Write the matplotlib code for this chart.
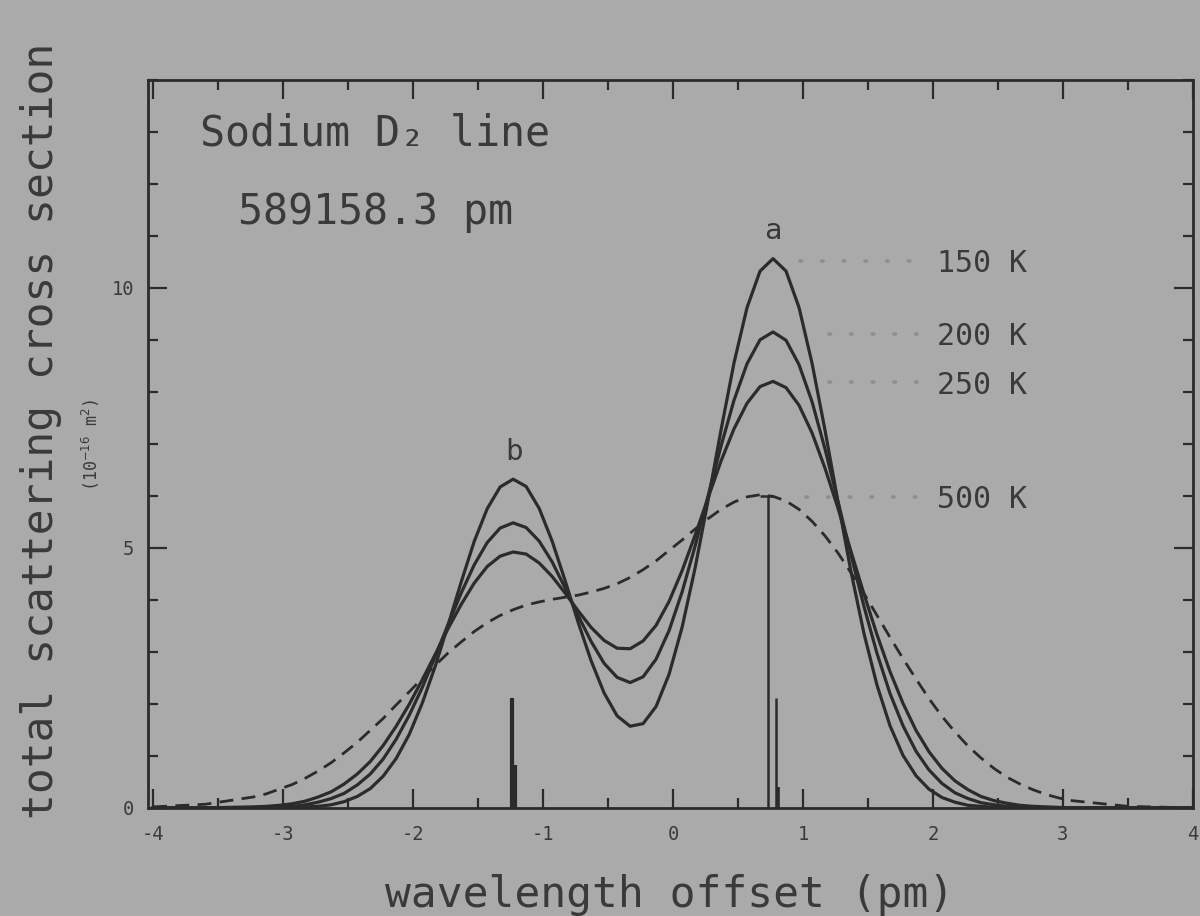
import matplotlib.pyplot as plt
from matplotlib.ticker import MultipleLocator

plt.rcParams['font.family'] = 'DejaVu Sans Mono'
plt.rcParams['axes.unicode_minus'] = False

# wavelength offset (pm), sample positions
wl = [-4.0, -3.6,
      -3.23, -3.13, -3.03, -2.93, -2.83, -2.73, -2.63, -2.53, -2.43, -2.33,
      -2.23, -2.13, -2.03, -1.93, -1.83, -1.73, -1.63, -1.53, -1.43, -1.33,
      -1.23, -1.13, -1.03, -0.93, -0.83, -0.73, -0.63, -0.53, -0.43, -0.33,
      -0.23, -0.13, -0.03, 0.07, 0.17, 0.27, 0.37, 0.47, 0.57, 0.67,
      0.77, 0.87, 0.97, 1.07, 1.17, 1.27, 1.37, 1.47, 1.57, 1.67,
      1.77, 1.87, 1.97, 2.07, 2.17, 2.27, 2.37, 2.47, 2.57, 2.67,
      2.77, 2.87, 2.97, 3.07,
      3.5, 4.0]

# cross section (1e-16 m2) for each temperature
t150 = [0.00, 0.00,
        0.00, 0.00, 0.00, 0.01, 0.02, 0.03, 0.06, 0.12, 0.22, 0.37,
        0.61, 0.95, 1.41, 2.01, 2.72, 3.52, 4.34, 5.12, 5.75, 6.17,
        6.32, 6.18, 5.76, 5.13, 4.37, 3.57, 2.83, 2.21, 1.77, 1.57,
        1.62, 1.95, 2.57, 3.47, 4.61, 5.91, 7.27, 8.56, 9.62, 10.32,
        10.56, 10.32, 9.62, 8.55, 7.26, 5.88, 4.54, 3.35, 2.36, 1.58,
        1.01, 0.62, 0.36, 0.20, 0.11, 0.05, 0.03, 0.01, 0.01, 0.00,
        0.00, 0.00, 0.00, 0.00,
        0.00, 0.00]
t200 = [0.00, 0.00,
        0.00, 0.01, 0.02, 0.03, 0.06, 0.11, 0.18, 0.28, 0.44, 0.65,
        0.94, 1.32, 1.78, 2.31, 2.91, 3.53, 4.13, 4.67, 5.10, 5.38,
        5.48, 5.39, 5.13, 4.73, 4.23, 3.70, 3.20, 2.78, 2.51, 2.41,
        2.52, 2.86, 3.41, 4.15, 5.03, 6.00, 6.96, 7.84, 8.54, 9.00,
        9.15, 8.99, 8.52, 7.81, 6.90, 5.89, 4.86, 3.87, 2.97, 2.20,
        1.58, 1.09, 0.73, 0.47, 0.29, 0.18, 0.10, 0.06, 0.03, 0.02,
        0.01, 0.00, 0.00, 0.00,
        0.00, 0.00]
t250 = [0.00, 0.00,
        0.02, 0.03, 0.05, 0.08, 0.13, 0.21, 0.31, 0.46, 0.65, 0.89,
        1.20, 1.57, 1.99, 2.46, 2.95, 3.45, 3.91, 4.32, 4.64, 4.84,
        4.92, 4.88, 4.71, 4.45, 4.13, 3.79, 3.47, 3.22, 3.07, 3.06,
        3.21, 3.51, 3.97, 4.56, 5.24, 5.96, 6.67, 7.29, 7.78, 8.10,
        8.20, 8.08, 7.74, 7.21, 6.53, 5.76, 4.93, 4.11, 3.33, 2.62,
        2.01, 1.49, 1.08, 0.76, 0.52, 0.35, 0.22, 0.14, 0.09, 0.05,
        0.03, 0.02, 0.01, 0.00,
        0.00, 0.00]
t500 = [0.02, 0.07,
        0.21, 0.27, 0.36, 0.45, 0.57, 0.71, 0.87, 1.06, 1.26, 1.49,
        1.72, 1.98, 2.23, 2.49, 2.74, 2.98, 3.19, 3.39, 3.56, 3.70,
        3.81, 3.90, 3.96, 4.01, 4.05, 4.09, 4.15, 4.22, 4.31, 4.43,
        4.58, 4.75, 4.95, 5.15, 5.36, 5.56, 5.74, 5.88, 5.98, 6.02,
        5.99, 5.90, 5.74, 5.51, 5.23, 4.90, 4.52, 4.12, 3.70, 3.28,
        2.87, 2.48, 2.10, 1.76, 1.46, 1.19, 0.96, 0.76, 0.59, 0.46,
        0.35, 0.26, 0.19, 0.14,
        0.03, 0.00]

# hyperfine component sticks
stick_x = [-1.24, -1.215, 0.79, 0.805]
stick_h = [2.12, 0.83, 2.12, 0.40]
stick_w = [3.0, 3.0, 1.8, 2.6]

# 500 K peak marker
marker_x = 0.73
marker_top = 6.0

temps = ['150 K', '200 K', '250 K', '500 K']
label_y = [10.46, 9.06, 8.13, 5.93]
leader_start = [0.98, 1.2, 1.2, 1.02]

bg = '#aaaaaa'
ink = '#2b2b2b'
txt = '#3a3a3a'

fig, ax = plt.subplots(figsize=(12, 9.16), dpi=100)
fig.patch.set_facecolor(bg)
ax.set_facecolor(bg)
fig.subplots_adjust(left=0.1233, right=0.994, bottom=0.118, top=0.913)

for ys in (t150, t200, t250):
    ax.plot(wl, ys, color=ink, lw=2.3, solid_joinstyle='round')
ax.plot(wl, t500, color=ink, lw=2.0, ls=(0, (5, 3)))

ax.vlines(stick_x, 0, stick_h, colors=ink, linewidths=stick_w)
ax.vlines(marker_x, 0, marker_top, colors=ink, linewidth=1.8)
ax.hlines(marker_top, marker_x - 0.06, marker_x + 0.04, colors=ink, linewidth=1.8)

# temperature labels with dotted leaders
for t, y, x0 in zip(temps, label_y, leader_start):
    ax.plot([x0, 1.92], [y + 0.05, y + 0.05], color='#8e8e8e', lw=2.6,
            ls=(0, (0.4, 5.6)), dash_capstyle='round')
    ax.text(2.03, y, t, fontsize=21.5, color=txt, ha='left', va='center')

ax.text(0.77, 11.1, 'a', fontsize=21, color=txt, ha='center', va='center')
ax.text(-1.22, 6.85, 'b', fontsize=21, color=txt, ha='center', va='center')

ax.text(-3.64, 12.97, 'Sodium D\u2082 line', fontsize=30, color=txt, ha='left', va='center')
ax.text(-3.35, 11.46, '589158.3 pm', fontsize=30, color=txt, ha='left', va='center')

ax.set_xlim(-4.04, 4.0)
ax.set_ylim(0, 14)
ax.set_xticks(range(-4, 5))
ax.set_xticklabels([str(v) for v in range(-4, 5)])
ax.set_yticks([0, 5, 10])
ax.xaxis.set_minor_locator(MultipleLocator(0.5))
ax.yaxis.set_minor_locator(MultipleLocator(1))
ax.tick_params(which='both', direction='in', top=True, right=True,
               colors=ink, labelcolor=txt, labelsize=13.5, width=1.6)
ax.tick_params(axis='x', which='major', length=14, pad=12)
ax.tick_params(axis='y', which='major', length=14, pad=10)
ax.tick_params(which='minor', length=7)
for s in ax.spines.values():
    s.set_color(ink)
    s.set_linewidth(2.0)

fig.text(0.034, 0.53, 'total scattering cross section', rotation=90,
         fontsize=31, color=txt, ha='center', va='center')
fig.text(0.076, 0.514, '(10$^{-16}$ m$^2$)', rotation=90,
         fontsize=12, color=txt, ha='center', va='center')
fig.text(0.558, 0.023, 'wavelength offset (pm)', fontsize=31,
         color=txt, ha='center', va='center')

fig.savefig('out.png', dpi=100, facecolor=bg)
